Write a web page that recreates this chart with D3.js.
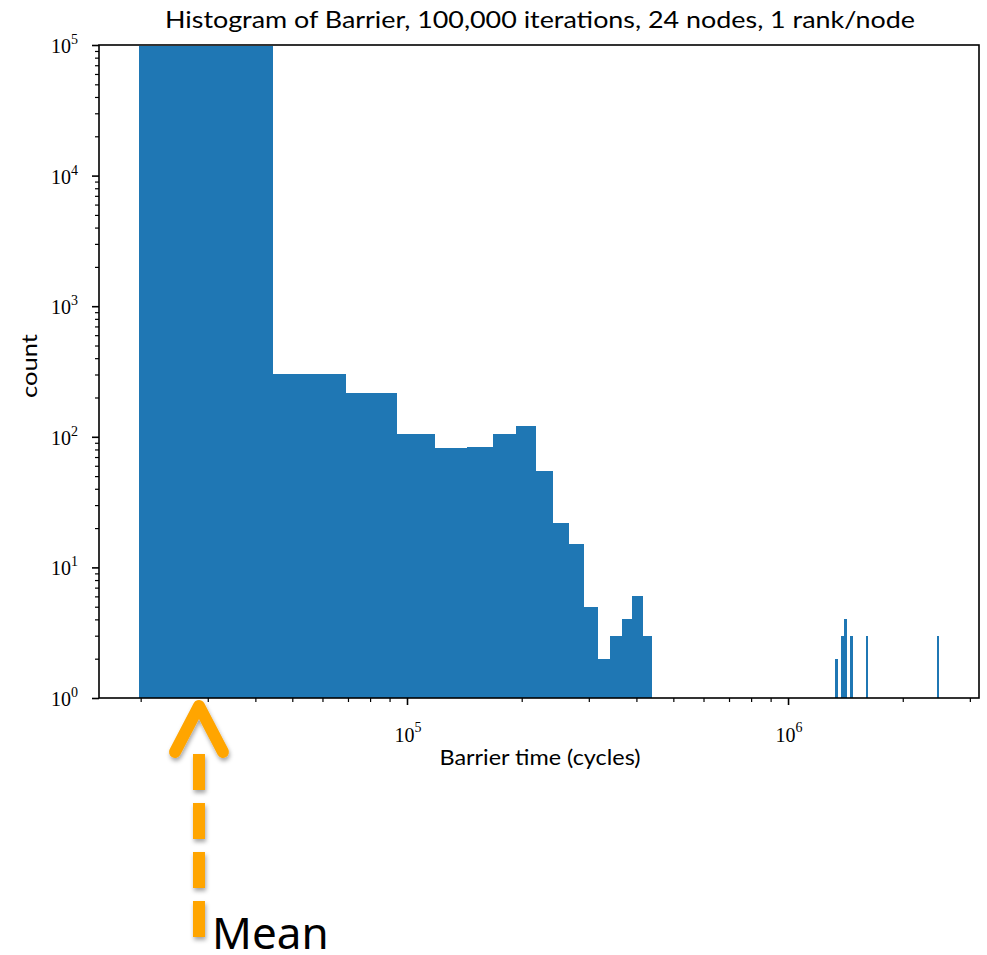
<html>
<script src="https://d3js.org/d3.v7.min.js"></script>
<style>
  body { margin: 0; background: #fff; }
  .tick line { stroke: #000; }
  .tlab { font-family: 'Liberation Serif', serif; font-size: 20px; fill: #000; }
  .lab { font-family: Lato, 'Noto Sans', sans-serif; fill: #000; }
</style>
<body onload='init()'>
<svg width=987 height=955></svg>
<script>
// histogram of barrier times: 100 equal-width (linear) bins, drawn on a log x axis
const binStart = 19800;
const binWidth = 24700;
const binTotal = 100;

// bins that hold data (index into the 100 bins) and their counts
const binIndex = [0, 1, 2, 3, 4, 5, 6, 7, 8, 9, 10, 11, 12, 13, 14, 15, 16, 53, 55, 56, 58, 64, 99];
const binCount = [98830, 304, 218, 105, 82, 83, 105, 121, 55, 22, 15, 5, 2, 3, 4, 6, 3, 2, 3, 4, 3, 3, 3];

const meanValue = 28450;

const xMajorExp = [5, 6];
const yMajorExp = [0, 1, 2, 3, 4, 5];

const titleText = 'Histogram of Barrier, 100,000 iterations, 24 nodes, 1 rank/node';
const xLabelText = 'Barrier time (cycles)';
const yLabelText = 'count';
const noteText = 'Mean';

function init() {
  const svg = d3.select('svg');
  svg.append('rect').attr('width', 987).attr('height', 955).attr('fill', '#fff');

  // plot area
  const left = 99, right = 979, top = 45, bottom = 698;

  const bins = binIndex.map(function(b, i) {
    return { lo: binStart + b * binWidth, hi: binStart + (b + 1) * binWidth, n: binCount[i] };
  });

  // matplotlib style 5% margin in log space around the bin edges
  const lo = Math.log10(binStart), hi = Math.log10(binStart + binTotal * binWidth);
  const pad = 0.05 * (hi - lo);
  const x = d3.scaleLog().domain([Math.pow(10, lo - pad), Math.pow(10, hi + pad)]).range([left, right]);
  const y = d3.scaleLog().domain([1, 1e5]).range([bottom, top]);

  // bars (crisp edges so neighbours don't leave seams)
  svg.append('g')
    .attr('fill', '#1f77b4')
    .attr('shape-rendering', 'crispEdges')
    .selectAll('rect')
    .data(bins)
    .enter()
    .append('rect')
      .attr('x', function(d) { return x(d.lo); })
      .attr('y', function(d) { return y(d.n); })
      .attr('width', function(d) { return Math.max(1.5, x(d.hi) - x(d.lo)); })
      .attr('height', function(d) { return bottom - y(d.n); });

  // ticks
  const xMajor = xMajorExp.map(function(e) { return Math.pow(10, e); });
  const xMinor = [];
  [4, 5, 6].forEach(function(e) {
    for (let m = 2; m <= 9; m++) {
      const v = m * Math.pow(10, e);
      if (v > x.domain()[0] && v < x.domain()[1]) xMinor.push(v);
    }
  });
  const yMajor = yMajorExp.map(function(e) { return Math.pow(10, e); });
  const yMinor = [];
  [0, 1, 2, 3, 4].forEach(function(e) {
    for (let m = 2; m <= 9; m++) yMinor.push(m * Math.pow(10, e));
  });

  function tickAxis(axis, g, w) {
    g.call(axis);
    g.select('.domain').remove();
    g.selectAll('.tick line').attr('stroke-width', w);
  }

  tickAxis(d3.axisBottom(x).tickValues(xMajor).tickSize(7).tickFormat(''),
    svg.append('g').attr('transform', 'translate(0,' + bottom + ')'), 1.6);
  tickAxis(d3.axisBottom(x).tickValues(xMinor).tickSize(4).tickFormat(''),
    svg.append('g').attr('transform', 'translate(0,' + bottom + ')'), 1.2);
  tickAxis(d3.axisLeft(y).tickValues(yMajor).tickSize(7).tickFormat(''),
    svg.append('g').attr('transform', 'translate(' + left + ',0)'), 1.6);
  tickAxis(d3.axisLeft(y).tickValues(yMinor).tickSize(4).tickFormat(''),
    svg.append('g').attr('transform', 'translate(' + left + ',0)'), 1.2);

  // tick labels as 10^n
  const xl = svg.append('g').selectAll('text').data(xMajorExp).enter()
    .append('text').attr('class', 'tlab')
    .attr('x', function(e) { return x(Math.pow(10, e)) + 1; })
    .attr('y', 742)
    .attr('text-anchor', 'middle');
  xl.append('tspan').text('10');
  xl.append('tspan').attr('dy', -10).attr('font-size', 14).text(function(e) { return e; });

  const yl = svg.append('g').selectAll('text').data(yMajorExp).enter()
    .append('text').attr('class', 'tlab')
    .attr('x', 78)
    .attr('y', function(e) { return y(Math.pow(10, e)) + 8; })
    .attr('text-anchor', 'end');
  yl.append('tspan').text('10');
  yl.append('tspan').attr('dy', -9).attr('font-size', 14).text(function(e) { return e; });

  // frame
  svg.append('rect')
    .attr('x', left).attr('y', top)
    .attr('width', right - left).attr('height', bottom - top)
    .attr('fill', 'none').attr('stroke', '#000').attr('stroke-width', 1.6);

  // titles
  svg.append('text').attr('class', 'lab')
    .attr('x', 540).attr('y', 28)
    .attr('text-anchor', 'middle').attr('font-size', 24)
    .attr('textLength', 750).attr('lengthAdjust', 'spacingAndGlyphs')
    .text(titleText);
  svg.append('text').attr('class', 'lab')
    .attr('x', 540).attr('y', 765)
    .attr('text-anchor', 'middle').attr('font-size', 22)
    .attr('textLength', 201).attr('lengthAdjust', 'spacingAndGlyphs')
    .text(xLabelText);
  svg.append('text').attr('class', 'lab')
    .attr('transform', 'translate(37,366) rotate(-90)')
    .attr('text-anchor', 'middle').attr('font-size', 22)
    .attr('textLength', 64).attr('lengthAdjust', 'spacingAndGlyphs')
    .text(yLabelText);

  // mean annotation arrow
  const defs = svg.append('defs');
  defs.append('filter').attr('id', 'shadow')
    .attr('x', '-50%').attr('y', '-50%').attr('width', '200%').attr('height', '200%')
    .append('feDropShadow')
      .attr('dx', 1).attr('dy', 3).attr('stdDeviation', 2)
      .attr('flood-color', '#000').attr('flood-opacity', 0.35);

  const mx = x(meanValue);
  const arrow = svg.append('g').attr('filter', 'url(#shadow)');
  arrow.append('line')
    .attr('x1', mx).attr('x2', mx).attr('y1', 754).attr('y2', 937)
    .attr('stroke', '#ffa500').attr('stroke-width', 12)
    .attr('stroke-dasharray', '36 13');
  arrow.append('path')
    .attr('d', 'M' + (mx - 24) + ',752 L' + mx + ',706 L' + (mx + 24) + ',752')
    .attr('fill', 'none').attr('stroke', '#ffa500').attr('stroke-width', 12)
    .attr('stroke-linecap', 'round').attr('stroke-linejoin', 'round');

  svg.append('text')
    .attr('x', 212).attr('y', 949)
    .attr('font-family', "'Noto Sans', sans-serif").attr('font-size', 44)
    .attr('fill', '#000')
    .text(noteText);
}
</script>
</body>
</html>
